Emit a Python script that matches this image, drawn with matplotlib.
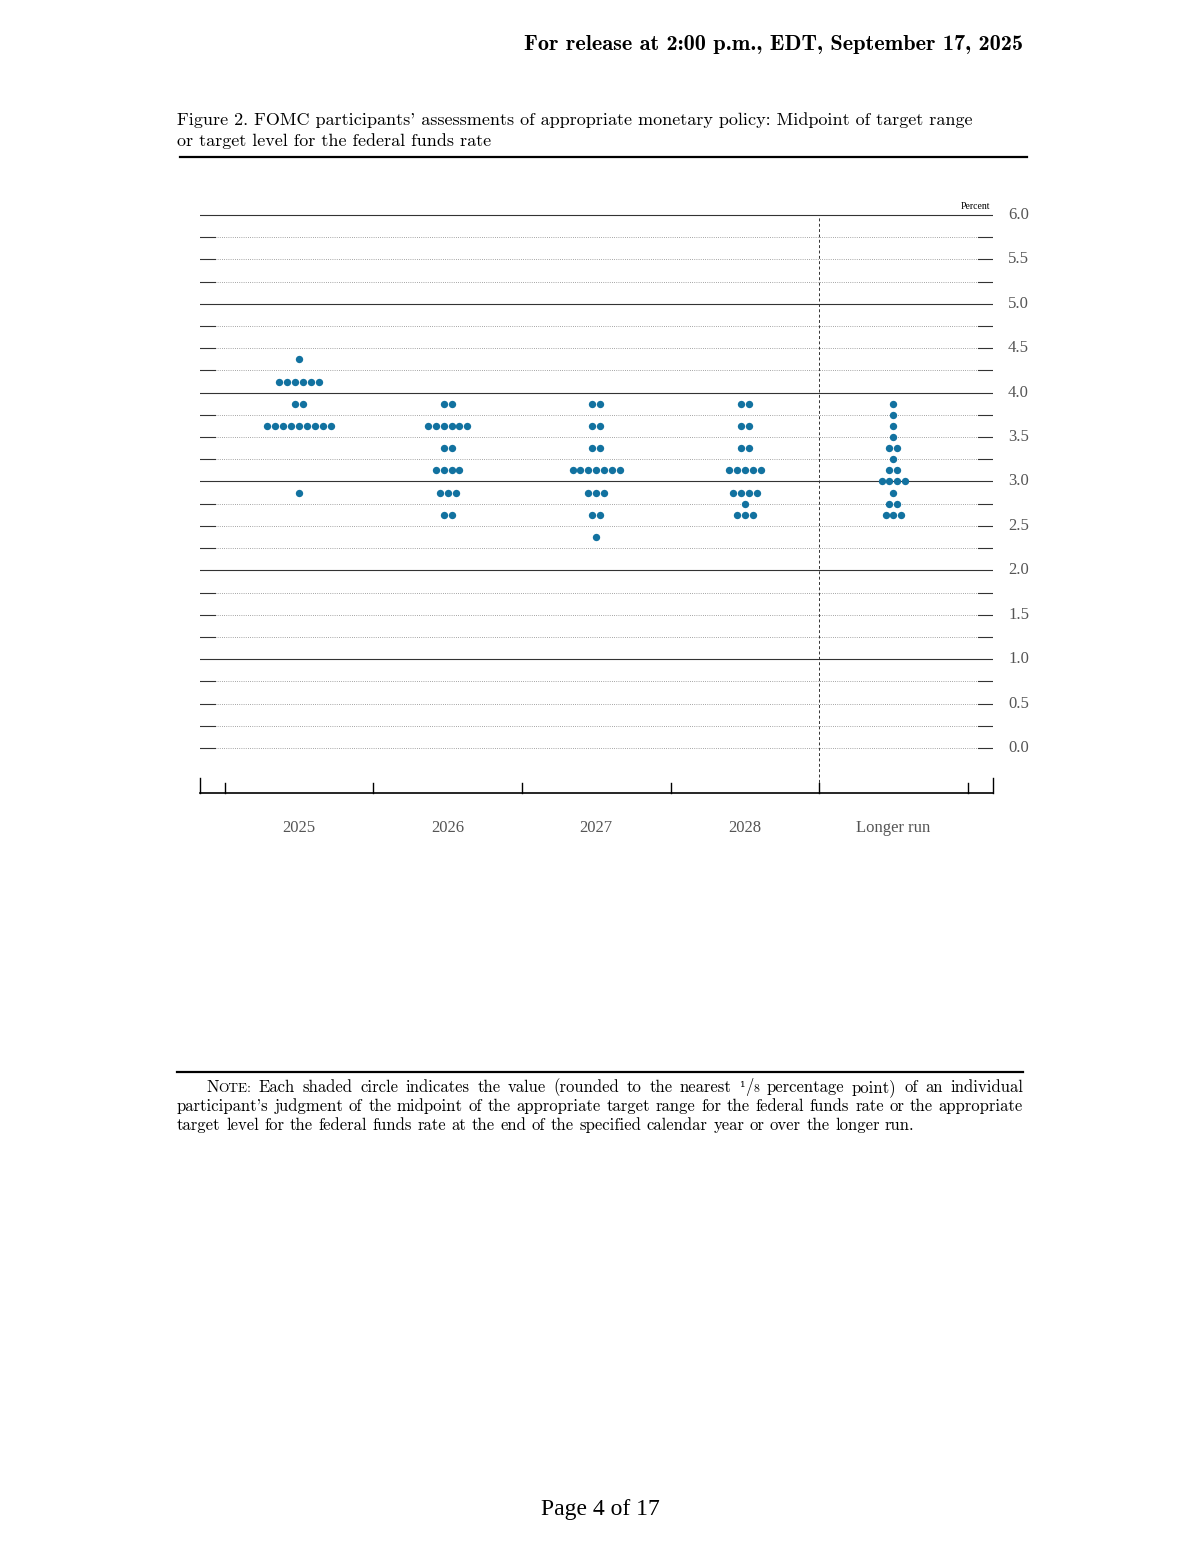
"""
FOMC dot plot, September 2025 (Figure 2).
"""
import numpy as np
import matplotlib
matplotlib.use('Agg')
import matplotlib.pyplot as plt
from matplotlib.transforms import IdentityTransform

W, H = 1200, 1553

# ---- data ----
categories = ['2025', '2026', '2027', '2028', 'Longer run']

rates_2025 = [4.375, 4.125, 3.875, 3.625, 2.875]
counts_2025 = [1, 6, 2, 9, 1]

rates_2026 = [3.875, 3.625, 3.375, 3.125, 2.875, 2.625]
counts_2026 = [2, 6, 2, 4, 3, 2]

rates_2027 = [3.875, 3.625, 3.375, 3.125, 2.875, 2.625, 2.375]
counts_2027 = [2, 2, 2, 7, 3, 2, 1]

rates_2028 = [3.875, 3.625, 3.375, 3.125, 2.875, 2.75, 2.625]
counts_2028 = [2, 2, 2, 5, 4, 1, 3]

rates_lr = [3.875, 3.75, 3.625, 3.5, 3.375, 3.25, 3.125, 3.0, 2.875, 2.75, 2.625]
counts_lr = [1, 1, 1, 1, 2, 1, 2, 4, 1, 2, 3]

y_ticks = [0.0, 0.5, 1.0, 1.5, 2.0, 2.5, 3.0, 3.5, 4.0, 4.5, 5.0, 5.5, 6.0]

columns = [(rates_2025, counts_2025), (rates_2026, counts_2026),
           (rates_2027, counts_2027), (rates_2028, counts_2028),
           (rates_lr, counts_lr)]

DOT = '#1272a0'
SERIF = ['Liberation Serif', 'DejaVu Serif']
CM = ['cmr10', 'DejaVu Serif']
CMB = ['cmb10', 'DejaVu Serif']
DJ = ['DejaVu Serif']

fig = plt.figure(figsize=(W / 100, H / 100), dpi=100)

# axes placed in pixel terms: x 200..993, y 205..793
ax = fig.add_axes([200 / W, 1 - 793 / H, 793 / W, 588 / H])
px_x = 148.6            # pixels per category
px_y = 88.83            # pixels per percentage point
x0, x1 = -99 / px_x, 694 / px_x
y0, y1 = -45 / px_y, 6 + 10 / px_y
ax.set_xlim(x0, x1)
ax.set_ylim(y0, y1)
ax.axis('off')

# grid lines every quarter point
dash = 15 / px_x
for v in np.arange(0, 6.01, 0.25):
    if v >= 1 and abs(v - round(v)) < 1e-9:
        ax.plot([x0, x1], [v, v], color='#333333', lw=0.8)
    else:
        ax.plot([x0 + dash, x1 - dash], [v, v], color='#888888', lw=0.6,
                linestyle=(0, (1, 1.6)))
        ax.plot([x0, x0 + dash], [v, v], color='#333333', lw=0.8)
        ax.plot([x1 - dash, x1], [v, v], color='#333333', lw=0.8)

# longer run separator
ax.plot([3.5, 3.5], [y0, 6.0], color='#333333', lw=0.7, linestyle=(0, (3, 2.5)))

# bottom bracket axis
ax.plot([x0, x1], [y0, y0], color='black', lw=1.2, clip_on=False)
for xb in [x0, x1]:
    ax.plot([xb, xb], [y0, y0 + 15 / px_y], color='black', lw=1.0, clip_on=False)
for xb in np.arange(-0.5, 4.6, 1.0):
    ax.plot([xb, xb], [y0, y0 + 10 / px_y], color='black', lw=1.0, clip_on=False)

# dots
dx = 7.9 / px_x
for i, (rates, counts) in enumerate(columns):
    for r, n in zip(rates, counts):
        xs = i + (np.arange(n) - (n - 1) / 2) * dx
        ax.scatter(xs, [r] * n, s=28, color=DOT, linewidths=0, zorder=3,
                   clip_on=False)

# tick labels on the right
for v in y_ticks:
    ax.text(x1 + 15 / px_x, v, f'{v:.1f}', ha='left', va='center',
            fontsize=12, color='#555555', family=SERIF)
ax.text(x1 - 3 / px_x, 6 + 9 / px_y, 'Percent', ha='right', va='center',
        fontsize=7, color='black', family=SERIF)

for i, c in enumerate(categories):
    ax.text(i, -80 / px_y, c, ha='center', va='center', fontsize=12,
            color='#555555', family=SERIF)

# ---- page furniture ----
T = IdentityTransform()


def ptext(x, y, s, **kw):
    return fig.text(x, H - y, s, transform=T, **kw)


def hrule(xa, xb, y, lw):
    fig.add_artist(plt.Line2D([xa, xb], [H - y, H - y], transform=T,
                              color='black', lw=lw))


ptext(1023, 44, 'For release at 2:00 p.m., EDT, September 17, 2025',
      ha='right', va='center', fontsize=16, family=CMB)
ptext(177, 120, "Figure 2. FOMC participants' assessments of appropriate "
      "monetary policy: Midpoint of target range",
      ha='left', va='center', fontsize=13, family=CM)
ptext(177, 141, 'or target level for the federal funds rate',
      ha='left', va='center', fontsize=13, family=CM)
hrule(180, 1027, 157, 1.6)
hrule(177, 1023, 1072, 1.6)

renderer = fig.canvas.get_renderer()
NS = 12.0


def place_line(words, xa, xb, y, justify):
    # words: list of lists of (string, size, family) pieces
    widths = []
    for w in words:
        tot = 0
        for s, fs, fam in w:
            t = ptext(0, 0, s, fontsize=fs, family=fam)
            tot += t.get_window_extent(renderer).width
            t.remove()
        widths.append(tot)
    sp = ptext(0, 0, 'a a', fontsize=NS, family=CM)
    sa = ptext(0, 0, 'aa', fontsize=NS, family=CM)
    space = sp.get_window_extent(renderer).width - sa.get_window_extent(renderer).width
    sp.remove()
    sa.remove()
    if justify and len(words) > 1:
        space = (xb - xa - sum(widths)) / (len(words) - 1)
    x = xa
    for w, wd in zip(words, widths):
        xx = x
        for s, fs, fam in w:
            t = ptext(xx, y, s, fontsize=fs, family=fam, ha='left',
                      va='baseline')
            xx += t.get_window_extent(renderer).width
        x += wd + space


def simple(line):
    return [[(w, NS, CM)] for w in line.split()]


eighth = [[('\u00b9', NS * 0.85, DJ), ('/', NS, CM), ('8', NS * 0.7, CM)]]
note1 = ([[('N', NS, CM), ('OTE:', NS * 0.8, CM)]] +
         simple('Each shaded circle indicates the value (rounded to the nearest') +
         eighth +
         simple('percentage point) of an individual'))
note2 = simple("participant's judgment of the midpoint of the appropriate "
               "target range for the federal funds rate or the appropriate")
note3 = simple('target level for the federal funds rate at the end of the '
               'specified calendar year or over the longer run.')
place_line(note1, 206, 1023, 1092, True)
place_line(note2, 177, 1023, 1111, True)
place_line(note3, 177, 1023, 1130, False)

ptext(600, 1509, 'Page 4 of 17', ha='center', va='center', fontsize=17,
      family=SERIF)

fig.savefig('out.png', dpi=100)
